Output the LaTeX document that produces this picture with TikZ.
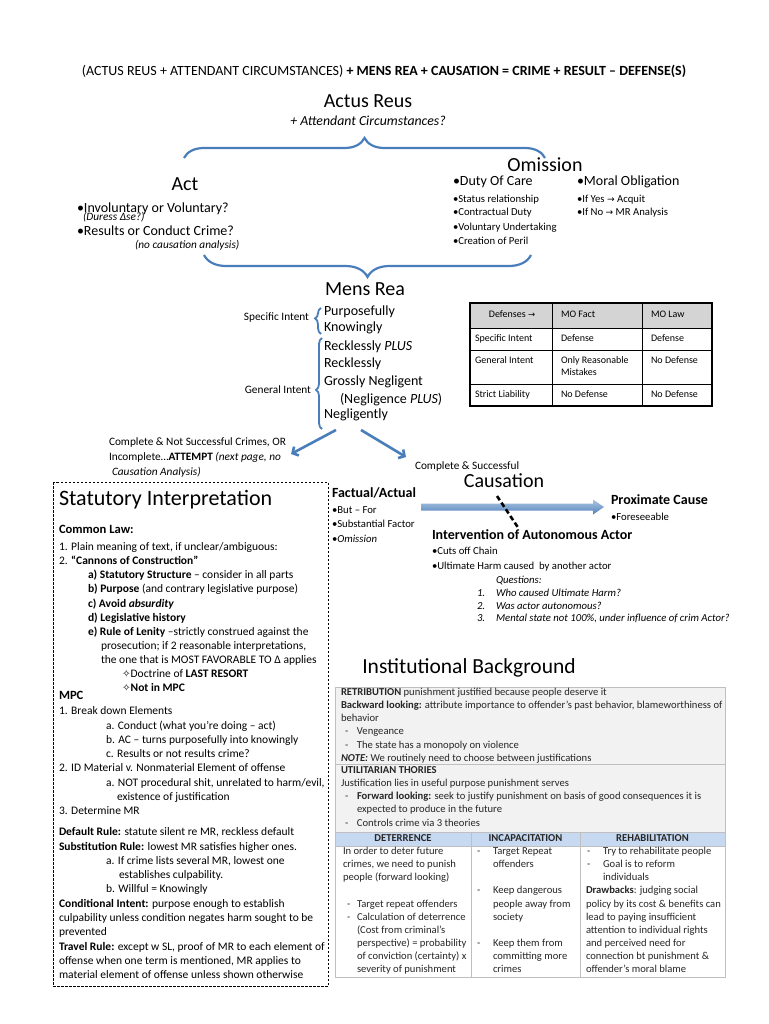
\documentclass[tikz,border=0pt]{standalone}
\usepackage{fontspec}
\setmainfont{Carlito}
\newfontfamily\djv{DejaVu Sans}
\usetikzlibrary{decorations.pathreplacing,arrows.meta,calc}
\definecolor{obl}{HTML}{4A7EBB}
\definecolor{hb}{HTML}{C6D9F1}
\definecolor{tg}{HTML}{BFBFBF}
\definecolor{cg}{HTML}{F2F2F2}
\newcommand{\fsz}[2]{\fontsize{#1}{#2}\selectfont}
\newcommand{\dl}[2]{\makebox[#1][l]{\hspace*{#2}-}}
\newcommand{\rar}{{\djv\fontsize{0.85em}{1em}\selectfont →}}
\newcommand{\dia}{{\djv\fontsize{0.9em}{1em}\selectfont ✧}}
\tikzset{
  bse/.style={inner sep=0pt, outer sep=0pt, text=black},
  tL/.style={bse, anchor=mid west},
  tC/.style={bse, anchor=mid},
  tR/.style={bse, anchor=mid east},
  fhdr/.style={font=\fsz{14}{17}},
  fttl/.style={font=\fsz{20}{24}},
  fbig/.style={font=\fsz{14}{17}},
  fbb/.style={font=\fsz{14}{17}\bfseries},
  fsm/.style={font=\fsz{11.3}{14}},
  fsmi/.style={font=\fsz{11.3}{14}\itshape},
  fsub/.style={font=\fsz{10.7}{13}},
  fsubi/.style={font=\fsz{10.7}{13}\itshape},
  fbox/.style={font=\fsz{11.5}{14.3}},
  ftb/.style={font=\fsz{10.6}{13.15}, text=black!85},
  ftbb/.style={font=\fsz{10.6}{13.15}\bfseries, text=black!85},
  fdt/.style={font=\fsz{10}{12}},
  blk/.style={bse, anchor=north west, align=left},
  brc/.style={draw=obl, line width=2.2pt, decorate},
  barr/.style={draw=obl, line width=2.6pt, -{Straight Barb[length=4.5pt,width=10pt]}},
  tline/.style={draw=tg, line width=0.8pt},
}
\begin{document}
\begin{tikzpicture}[x=1pt,y=-1pt]
\useasboundingbox (0,0) rectangle (768,1024);
\fill[white] (0,0) rectangle (768,1024);

% ---------- header ----------
\node[tC, fhdr] (hdr) at (384,73) {(ACTUS REUS + ATTENDANT CIRCUMSTANCES) \textbf{+ MENS REA + CAUSATION = CRIME + RESULT – DEFENSE(S)}};

% ---------- actus reus ----------
\node[tC, fttl] (ar) at (368,105) {Actus Reus};
\node[tC, font=\fsz{13.8}{16}\itshape] (arc) at (368,123) {+ Attendant Circumstances?};
\coordinate (tbL) at (184,158);
\coordinate (tbR) at (545,158);
\draw[brc, decoration={brace, amplitude=20pt, aspect=0.5}] (tbL) -- (tbR);

% act
\node[tC, fttl] (act) at (185,188) {Act};
\node[tL, fbig] (inv) at (77,210) {•Involuntary or Voluntary?};
\node[tL, fsmi] (dur) at (83,218) {(Duress Δse?)};
\node[tL, fbig] (res) at (77,233) {•Results or Conduct Crime?};
\node[tL, fsmi] (nca) at (135,246) {(no causation analysis)};

% omission
\node[tC, fttl] (om) at (545,169) {Omission};
\node[tL, fbig] (doc) at (453,183) {•Duty Of Care};
\node[tL, fsub] (o1) at (453,200) {•Status relationship};
\node[tL, fsub] (o2) at (453,213) {•Contractual Duty};
\node[tL, fsub] (o3) at (453,228) {•Voluntary Undertaking};
\node[tL, fsub] (o4) at (453,242) {•Creation of Peril};
\node[tL, fbig] (mob) at (577,183) {•Moral Obligation};
\node[tL, fsub] (y1) at (577,200) {•If Yes \rar{} Acquit};
\node[tL, fsub] (y2) at (577,213) {•If No \rar{} MR Analysis};

\coordinate (bbR) at (531,255);
\coordinate (bbL) at (204,255);
\draw[brc, decoration={brace, amplitude=22pt}] (bbR) -- (bbL);

% ---------- mens rea ----------
\node[tL, fttl] (mr) at (325,293) {Mens Rea};
\node[tL, fbig] (m1) at (324,313) {Purposefully};
\node[tL, fbig] (m2) at (324,329) {Knowingly};
\node[tL, fbig] (m3) at (324,348) {Recklessly \textit{PLUS}};
\node[tL, fbig] (m4) at (324,365) {Recklessly};
\node[tL, fbig] (m5) at (324,383) {Grossly Negligent};
\node[tL, fbig] (m6) at (340,401) {(Negligence \textit{PLUS})};
\node[tL, fbig] (m7) at (324,416) {Negligently};
\node[tR, fsm] (si) at (309,318) {Specific Intent};
\node[tR, fsm] (gi) at (311,391) {General Intent};
\coordinate (bs1) at (321,334);
\coordinate (bs2) at (321,308);
\draw[brc, line width=1.8pt, decoration={brace, amplitude=6pt, aspect=0.6}] (bs1) -- (bs2);
\coordinate (bg1) at (322,429);
\coordinate (bg2) at (322,338);
\draw[brc, line width=1.8pt, decoration={brace, amplitude=6pt, aspect=0.43}] (bg1) -- (bg2);

% defenses table
\fill[black!17] (470,303) rectangle (712,328);
\draw[line width=0.7pt] (470,328) -- (712,328) (470,350) -- (712,350) (470,384) -- (712,384)
  (552,303) -- (552,406) (642,303) -- (642,406);
\draw[line width=1.3pt] (470,303) rectangle (712,406);
\node[tC, fdt] (d0) at (512,315) {Defenses \rar};
\node[tL, fdt] (d01) at (561,315) {MO Fact};
\node[tL, fdt] (d02) at (651,315) {MO Law};
\node[tL, fdt] (d10) at (475,339) {Specific Intent};
\node[tL, fdt] (d11) at (561,339) {Defense};
\node[tL, fdt] (d12) at (651,339) {Defense};
\node[tL, fdt] (d20) at (475,361) {General Intent};
\node[tL, fdt] (d21) at (561,361) {Only Reasonable};
\node[tL, fdt] (d21b) at (561,373) {Mistakes};
\node[tL, fdt] (d22) at (651,361) {No Defense};
\node[tL, fdt] (d30) at (475,395) {Strict Liability};
\node[tL, fdt] (d31) at (561,395) {No Defense};
\node[tL, fdt] (d32) at (651,395) {No Defense};

% ---------- branch arrows ----------
\coordinate (aS1) at (336,430);
\coordinate (aE1) at (291,454);
\coordinate (aS2) at (361,430);
\coordinate (aE2) at (406,457);
\draw[barr] (aS1) -- (aE1);
\draw[barr] (aS2) -- (aE2);
\node[tL, fsm] (at1) at (109,443) {Complete \& Not Successful Crimes, OR};
\node[tL, fsm] (at2) at (109,458) {Incomplete…\textbf{ATTEMPT} \textit{(next page, no}};
\node[tL, fsmi] (at3) at (112,473) {Causation Analysis)};

% ---------- causation ----------
\node[tL, fsm] (cs) at (415,467) {Complete \& Successful};
\node[tC, fttl] (cau) at (504,485) {Causation};
\node[tL, fbb] (fa) at (332,495) {Factual/Actual};
\node[tL, fsub] (f1) at (332,511) {•But – For};
\node[tL, fsub] (f2) at (332,525) {•Substantial Factor};
\node[tL, fsub] (f3) at (332,540) {•\textit{Omission}};
\node[tL, fbb] (pc) at (611,502) {Proximate Cause};
\node[tL, fsub] (p1) at (611,518) {•Foreseeable};
\coordinate (caS) at (421,507);
\coordinate (caE) at (604,507);
\shade[top color=obl!45, bottom color=obl, middle color=obl!70]
  ($(caS)+(0,-3.5)$) -- ($(caE)+(-11,-3.5)$) -- ($(caE)+(-11,-7.5)$) -- (caE)
  -- ($(caE)+(-11,7.5)$) -- ($(caE)+(-11,3.5)$) -- ($(caS)+(0,3.5)$) -- cycle;
\node[tL, fbb] (iv) at (432,537) {Intervention of Autonomous Actor};
\node[tL, fsub] (i1) at (432,552) {•Cuts off Chain};
\node[tL, fsub] (i2) at (432,567) {•Ultimate Harm caused \ by another actor};
\node[tL, fsubi] (q0) at (496,581) {Questions:};
\node[tL, fsubi] (q1n) at (477,594) {1.};
\node[tL, fsubi] (q1) at (496,594) {Who caused Ultimate Harm?};
\node[tL, fsubi] (q2n) at (477,607) {2.};
\node[tL, fsubi] (q2) at (496,607) {Was actor autonomous?};
\node[tL, fsubi] (q3n) at (477,619) {3.};
\node[tL, fsubi] (q3) at (496,619) {Mental state not 100\%, under influence of crim Actor?};
\coordinate (dA) at (497,496);
\coordinate (dB) at (519,529);
\draw[line width=2.6pt, dash pattern=on 5pt off 3pt] (dA) -- (dB);

% ---------- statutory interpretation box ----------
\draw[line width=0.8pt, dash pattern=on 2.5pt off 1.5pt] (53,482) rectangle (328,986);
\node[tL, font=\fsz{22}{26}] (stt) at (59,503) {Statutory Interpretation};
\node[tL, font=\fsz{12.6}{15}\bfseries] (cl) at (59,531) {Common Law:};
\node[blk, font=\fsz{11.5}{14.1}] (blA) at (59,540.8) {\strut 1. Plain meaning of text, if unclear/ambiguous:\\
2. \textbf{“Cannons of Construction”}\\
\hspace*{29pt}\textbf{a) Statutory Structure} – consider in all parts\\
\hspace*{29pt}\textbf{b) Purpose} (and contrary legislative purpose)\\
\hspace*{29pt}\textbf{c) Avoid \textit{absurdity}}\\
\hspace*{29pt}\textbf{d) Legislative history}\\
\hspace*{29pt}\textbf{e) Rule of Lenity} –strictly construed against the\\
\hspace*{42pt}prosecution; if 2 reasonable interpretations,\\
\hspace*{42pt}the one that is MOST FAVORABLE TO Δ applies\\
\hspace*{63pt}\dia Doctrine of \textbf{LAST RESORT}\\
\hspace*{63pt}\dia\textbf{Not in MPC}};
\node[tL, font=\fsz{12.6}{15}\bfseries] (mpc) at (59,697) {MPC};
\node[blk, fbox] (blB) at (59,704.7) {\strut 1. Break down Elements\\
\hspace*{47pt}a. Conduct (what you’re doing – act)\\
\hspace*{47pt}b. AC – turns purposefully into knowingly\\
\hspace*{47pt}c. Results or not results crime?\\
2. ID Material v. Nonmaterial Element of offense\\
\hspace*{47pt}a. NOT procedural shit, unrelated to harm/evil,\\
\hspace*{58pt}existence of justification\\
3. Determine MR};
\node[blk, fbox] (blC) at (59,825.7) {\strut\textbf{Default Rule:} statute silent re MR, reckless default\\
\textbf{Substitution Rule:} lowest MR satisfies higher ones.\\
\hspace*{47pt}a. If crime lists several MR, lowest one\\
\hspace*{60pt}establishes culpability.\\
\hspace*{47pt}b. Willful = Knowingly\\
\textbf{Conditional Intent:} purpose enough to establish\\
culpability unless condition negates harm sought to be\\
prevented\\
\textbf{Travel Rule:} except w SL, proof of MR to each element of\\
offense when one term is mentioned, MR applies to\\
material element of offense unless shown otherwise};

% ---------- institutional background ----------
\node[tC, font=\fsz{21.5}{26}] (ib) at (469,671) {Institutional Background};
\fill[cg] (335,687) rectangle (725,832);
\draw[tline] (335,687) rectangle (725,764);
\draw[tline] (335,764) rectangle (725,832);
\fill[hb] (335,832) rectangle (725,846);
\draw[tline] (335,832) rectangle (725,977);
\draw[tline] (335,846) -- (725,846) (471,832) -- (471,977) (580,832) -- (580,977);
\node[blk, ftb] (ret) at (341,686.3) {\strut\textbf{RETRIBUTION} punishment justified because people deserve it\\
\textbf{Backward looking:} attribute importance to offender’s past behavior, blameworthiness of\\
behavior\\
\dl{16pt}{4pt}Vengeance\\
\dl{16pt}{4pt}The state has a monopoly on violence\\
\textbf{\textit{NOTE:}} We routinely need to choose between justifications};
\node[blk, ftb] (uti) at (341,764.3) {\strut\textbf{UTILITARIAN THORIES}\\
Justification lies in useful purpose punishment serves\\
\dl{16pt}{4pt}\textbf{Forward looking:} seek to justify punishment on basis of good consequences it is\\
\hspace*{16pt}expected to produce in the future\\
\dl{16pt}{4pt}Controls crime via 3 theories};
\node[tC, ftbb] (h1) at (403,839) {DETERRENCE};
\node[tC, ftbb] (h2) at (525.5,839) {INCAPACITATION};
\node[tC, ftbb] (h3) at (652.5,839) {REHABILITATION};
\node[blk, ftb] (c1) at (343,845.3) {\strut In order to deter future\\
crimes, we need to punish\\
people (forward looking)\\
\mbox{}\\
\dl{14pt}{4pt}Target repeat offenders\\
\dl{14pt}{4pt}Calculation of deterrence\\
\hspace*{14pt}(Cost from criminal’s\\
\hspace*{14pt}perspective) = probability\\
\hspace*{14pt}of conviction (certainty) x\\
\hspace*{14pt}severity of punishment};
\node[blk, ftb] (c2) at (477,845.3) {\strut\dl{16pt}{0pt}Target Repeat\\
\hspace*{16pt}offenders\\
\mbox{}\\
\dl{16pt}{0pt}Keep dangerous\\
\hspace*{16pt}people away from\\
\hspace*{16pt}society\\
\mbox{}\\
\dl{16pt}{0pt}Keep them from\\
\hspace*{16pt}committing more\\
\hspace*{16pt}crimes};
\node[blk, ftb] (c3) at (586,845.3) {\strut\dl{17pt}{1pt}Try to rehabilitate people\\
\dl{17pt}{1pt}Goal is to reform\\
\hspace*{17pt}individuals\\
\textbf{Drawbacks}: judging social\\
policy by its cost \& benefits can\\
lead to paying insufficient\\
attention to individual rights\\
and perceived need for\\
connection bt punishment \&\\
offender’s moral blame};
\end{tikzpicture}
\end{document}
